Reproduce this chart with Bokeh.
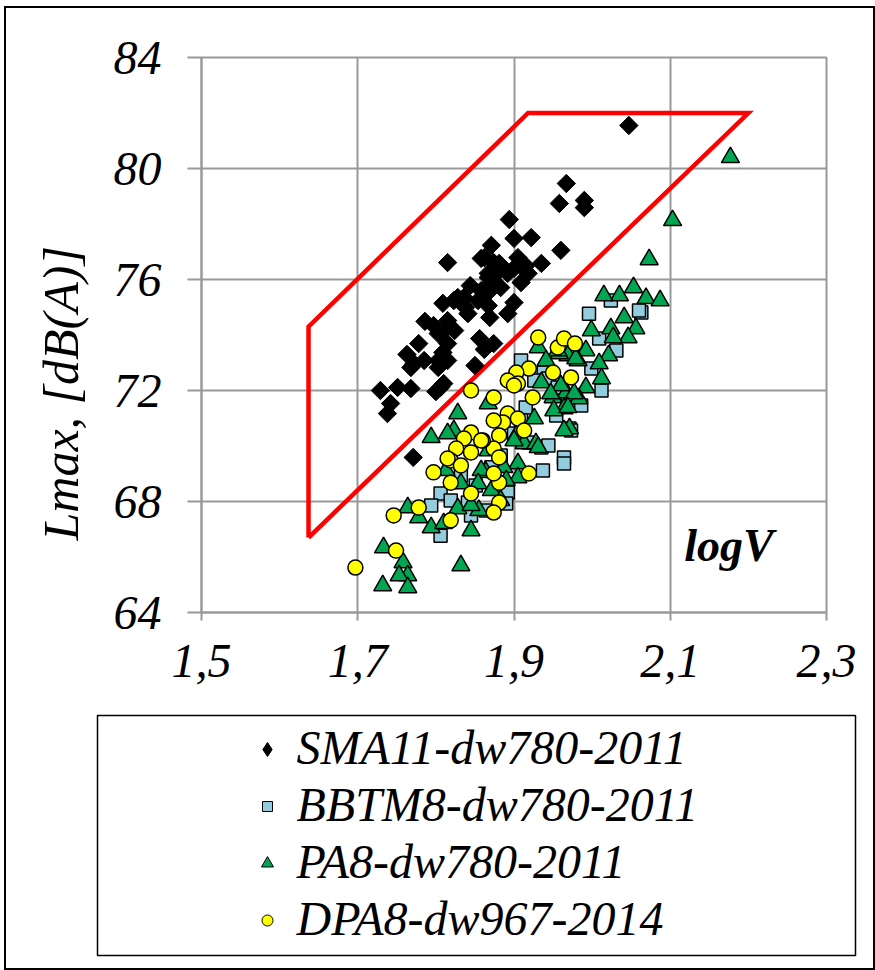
import math
from bokeh.plotting import figure
from bokeh.layouts import column
from bokeh.models import FixedTicker, Label, Title, Range1d
from bokeh.core.properties import value
from bokeh.embed import file_html
from bokeh.resources import INLINE

# ---------------- data ----------------
sma_x = [2.047, 1.967, 1.958, 1.990, 1.990, 1.894, 1.922, 1.900, 1.871, 1.960,
         1.815, 1.935, 1.862, 1.881, 1.913, 1.905, 1.858, 1.874, 1.886, 1.900,
         1.915, 1.867, 1.892, 1.918, 1.867, 1.879, 1.871, 1.844, 1.909, 1.883,
         1.858, 1.867, 1.836, 1.828, 1.854, 1.809, 1.823, 1.900, 1.838, 1.867,
         1.841, 1.892, 1.869, 1.786, 1.815, 1.797, 1.815, 1.824, 1.803, 1.778,
         1.815, 1.856, 1.874, 1.809, 1.763, 1.862, 1.785, 1.772, 1.803, 1.815,
         1.768, 1.803, 1.850, 1.806, 1.810, 1.800, 1.729, 1.751, 1.768, 1.742,
         1.738, 1.771]
sma_y = [81.55, 79.46, 78.74, 78.85, 78.59, 78.16, 77.51, 77.48, 77.23, 77.05,
         76.61, 76.58, 76.79, 76.58, 76.43, 76.79, 76.76, 76.61, 76.43, 76.40,
         76.50, 76.22, 76.22, 76.22, 76.07, 76.25, 75.89, 75.78, 75.89, 75.71,
         75.60, 75.53, 75.35, 75.35, 75.24, 75.14, 75.24, 75.17, 74.99, 75.06,
         74.77, 74.77, 74.63, 74.49, 74.52, 74.34, 74.27, 74.16, 74.05, 73.69,
         73.69, 73.87, 73.69, 73.37, 73.30, 73.48, 73.08, 72.97, 73.08, 73.08,
         72.83, 72.83, 72.90, 72.11, 72.25, 71.96, 72.00, 72.11, 72.07, 71.53,
         71.17, 69.59]

bbtm_x = [1.996, 2.063, 2.009, 2.024, 2.060, 1.909, 1.938, 1.926, 1.944, 1.999,
          1.956, 1.969, 1.915, 1.954, 1.971, 1.973, 1.900, 1.919, 1.935, 1.944,
          1.964, 1.964, 1.937, 1.871, 1.832, 1.851, 1.892, 1.890, 1.806, 1.841,
          1.864, 1.806, 1.883, 1.909, 1.986, 2.012, 2.031, 1.819, 1.794, 1.845]
bbtm_y = [74.77, 74.81, 73.87, 75.24, 74.88, 73.08, 72.65, 72.36, 72.43, 72.79,
          72.11, 71.75, 71.39, 71.10, 70.63, 70.56, 70.45, 70.13, 69.95, 70.02,
          69.59, 69.37, 69.12, 69.23, 68.94, 68.58, 68.32, 67.93, 68.29, 67.96,
          67.68, 66.77, 69.66, 70.92, 71.46, 72.00, 73.44, 68.04, 67.86, 67.50]

pa_x = [2.177, 2.103, 2.073, 2.053, 2.035, 2.015, 2.069, 2.087, 2.041, 2.056,
        2.024, 2.046, 2.027, 2.021, 2.009, 2.012, 1.992, 1.982, 1.969, 1.992,
        1.983, 1.967, 1.950, 1.935, 1.964, 1.971, 1.926, 1.903, 1.913, 1.928,
        1.905, 1.905, 1.887, 1.867, 1.867, 1.864, 1.958, 1.931, 1.956, 1.979,
        1.960, 1.947, 1.977, 1.828, 1.823, 1.794, 1.815, 1.951, 1.969, 1.964,
        1.931, 1.900, 1.858, 1.832, 1.764, 1.778, 1.794, 1.810, 1.828, 1.855,
        1.845, 1.733, 1.758, 1.764, 1.753, 1.732, 1.764, 1.832, 1.854, 1.845,
        1.871, 1.813, 1.883, 1.890, 1.999, 1.941]
pa_y = [80.40, 78.13, 76.72, 75.71, 75.42, 75.42, 75.32, 75.24, 74.63, 74.23,
        74.23, 73.91, 73.91, 73.26, 72.97, 72.43, 73.44, 73.08, 73.26, 72.11,
        71.71, 71.93, 71.75, 72.29, 71.35, 70.63, 70.99, 70.38, 70.09, 70.09,
        69.37, 68.86, 69.23, 71.53, 69.84, 69.05, 73.33, 73.55, 73.44, 73.15,
        72.18, 71.89, 71.89, 71.17, 70.56, 70.31, 70.45, 71.28, 71.39, 70.56,
        69.95, 70.20, 69.12, 68.65, 67.78, 67.42, 67.06, 67.21, 67.75, 67.68,
        66.95, 66.34, 65.80, 65.33, 65.33, 64.97, 64.90, 65.69, 68.65, 67.86,
        68.40, 69.12, 68.04, 68.76, 74.16, 73.08]

dpa_x = [1.931, 1.956, 1.964, 1.978, 1.919, 1.903, 1.892, 1.905, 1.950, 1.973,
         1.874, 1.924, 1.892, 1.886, 1.905, 1.874, 1.913, 1.881, 1.874, 1.881,
         1.860, 1.919, 1.881, 1.874, 1.881, 1.874, 1.845, 1.845, 1.836, 1.858,
         1.826, 1.819, 1.832, 1.845, 1.797, 1.819, 1.845, 1.778, 1.746, 1.819,
         1.749, 1.697, 1.900, 1.815]
dpa_y = [73.91, 73.55, 73.87, 73.69, 72.79, 72.65, 72.36, 72.25, 72.65, 72.47,
         71.75, 71.75, 71.17, 70.85, 70.99, 70.92, 70.56, 70.38, 69.91, 69.59,
         70.20, 69.01, 68.68, 69.01, 67.96, 67.60, 72.00, 70.49, 70.27, 70.20,
         69.91, 69.48, 69.30, 69.77, 69.05, 68.68, 68.29, 67.78, 67.50, 67.32,
         66.23, 65.62, 72.18, 69.55]

zone_x = [1.637, 1.637, 1.918, 2.200, 1.637]
zone_y = [66.70, 74.30, 82.00, 82.00, 66.70]

series_names = ["SMA11-dw780-2011", "BBTM8-dw780-2011", "PA8-dw780-2011", "DPA8-dw967-2014"]
series_markers = ["diamond", "square", "triangle", "circle"]
series_fills = ["black", "#93CDDD", "#00A651", "#FFFF00"]

x_ticks = [1.5, 1.7, 1.9, 2.1, 2.3]
x_tick_labels = ["1,5", "1,7", "1,9", "2,1", "2,3"]
y_ticks = [64, 68, 72, 76, 80, 84]
y_tick_labels = ["64", "68", "72", "76", "80", "84"]

y_title = "Lmax, [dB(A)]"
x_title = "logV"

# ---------------- main chart ----------------
FONT = "Liberation Serif"
GRID = "#999999"

p = figure(width=867, height=704, x_range=(1.5, 2.3), y_range=(64, 84),
           output_backend="svg", toolbar_location=None,
           min_border_left=195, min_border_right=47,
           min_border_top=49, min_border_bottom=100,
           background_fill_color="white", border_fill_color="white")

p.outline_line_color = GRID
p.outline_line_width = 2

for ax in (p.xaxis, p.yaxis):
    ax.axis_line_color = GRID
    ax.axis_line_width = 2
    ax.major_tick_line_color = GRID
    ax.major_tick_line_width = 2
    ax.major_tick_in = 0
    ax.minor_tick_line_color = None
    ax.major_label_text_font = FONT
    ax.major_label_text_font_style = "italic"
    ax.major_label_text_font_size = "48px"
    ax.major_label_text_color = "black"

p.xaxis.ticker = FixedTicker(ticks=x_ticks)
p.yaxis.ticker = FixedTicker(ticks=y_ticks)
p.xaxis.major_label_overrides = dict(zip(x_ticks, x_tick_labels))
p.yaxis.major_label_overrides = dict(zip(y_ticks, y_tick_labels))
p.xaxis.major_tick_out = 8
p.yaxis.major_tick_out = 14
p.xaxis.major_label_standoff = 24
p.yaxis.major_label_standoff = 26

p.xgrid.ticker = FixedTicker(ticks=x_ticks)
p.ygrid.ticker = FixedTicker(ticks=y_ticks)
for g in (p.xgrid, p.ygrid):
    g.grid_line_color = GRID
    g.grid_line_width = 2

p.line(zone_x, zone_y, line_color="#FF0000", line_width=4.5, line_join="miter")

p.scatter(sma_x, sma_y, marker="square", size=13, angle=math.pi / 4,
          fill_color=series_fills[0], line_color="black", line_width=1)
p.scatter(bbtm_x, bbtm_y, marker="square", size=13,
          fill_color=series_fills[1], line_color="black", line_width=1.5)
p.scatter(pa_x, pa_y, marker="triangle", size=18,
          fill_color=series_fills[2], line_color="black", line_width=1.5)
p.scatter(dpa_x, dpa_y, marker="circle", size=15,
          fill_color=series_fills[3], line_color="black", line_width=1.5)

p.add_layout(Title(text=y_title, align="left", offset=72, standoff=43,
                   text_font=FONT, text_font_style="italic",
                   text_font_size="50px", text_color="black"), "left")

p.add_layout(Label(x=2.118, y=66.4, text=x_title, text_align="left",
                   text_baseline="alphabetic", text_font=FONT,
                   text_font_style="bold italic", text_font_size="46px",
                   text_color="black"))

# ---------------- legend panel ----------------
leg = figure(width=867, height=256, x_range=Range1d(0, 867), y_range=Range1d(256, 0),
             output_backend="svg", toolbar_location=None,
             x_axis_type=None, y_axis_type=None, min_border=0,
             outline_line_color=None, background_fill_color="white",
             border_fill_color="white")

for fig in (p, leg):
    if "frame_align" in fig.properties():
        fig.frame_align = False

row_y = [35, 92, 149, 206]
key_x = [261, 261, 261, 261]
key_y = [r + 2 for r in row_y]
text_x = [290, 290, 290, 290]
key_sizes = [14, 10, 12, 11]

leg.quad(left=91, right=849, top=3, bottom=243, fill_color=None,
         line_color="black", line_width=1.5)
leg.scatter(key_x, key_y, marker=series_markers, size=key_sizes,
            fill_color=series_fills, line_color="black", line_width=1)
leg.text(text_x, row_y, text=series_names, text_font=value(FONT),
         text_font_style="italic", text_font_size="48px",
         text_baseline="middle", text_align="left", text_color="black")

layout = column(p, leg, spacing=0, margin=(6, 0, 0, 4),
                styles={"border": "2px solid black"})

open("out.html", "w").write(file_html(layout, INLINE))
